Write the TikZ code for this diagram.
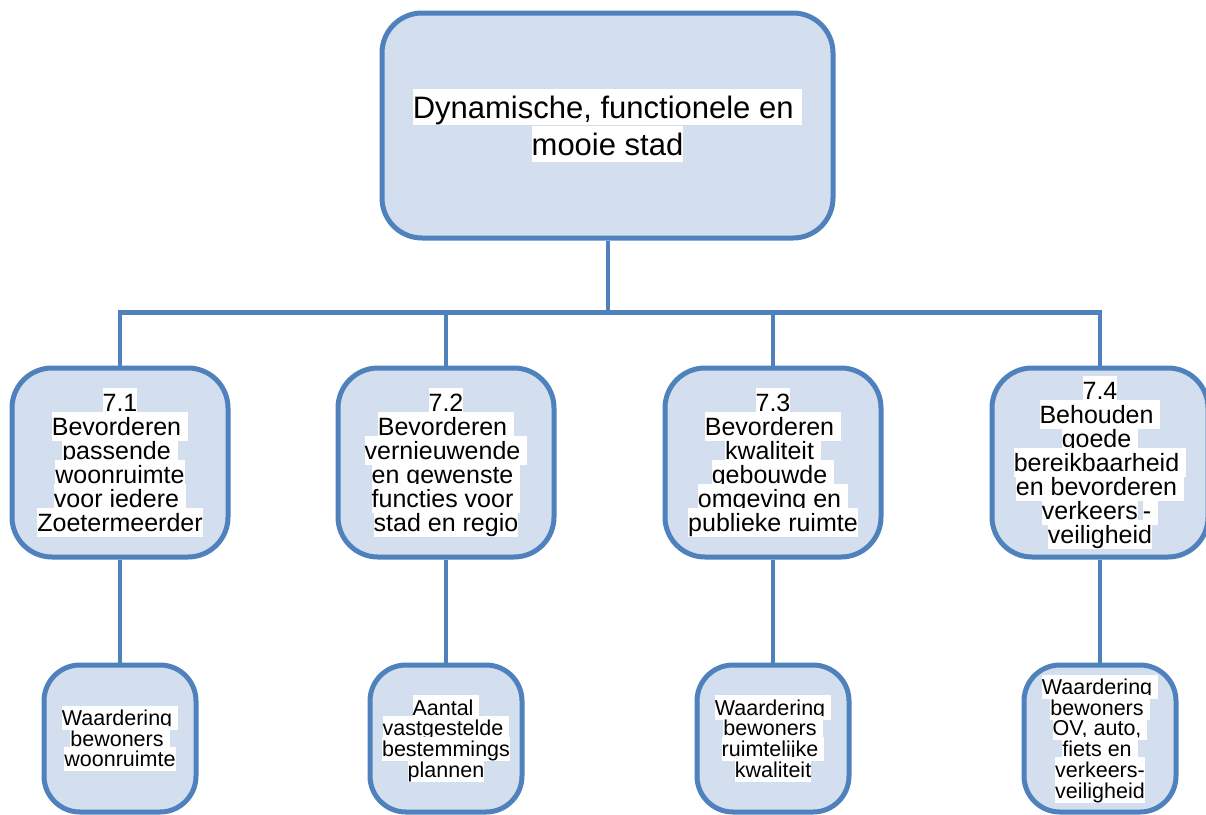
\documentclass[tikz,border=0pt]{standalone}
\usepackage{fontspec}
\setmainfont{Liberation Sans}
\definecolor{boxline}{RGB}{79,129,189}
\definecolor{boxfill}{RGB}{211,223,238}
\setlength{\fboxsep}{0pt}
\setlength{\lineskiplimit}{-100pt}
\newcommand{\hl}[1]{\colorbox{white}{\rule[-0.21em]{0pt}{1.14em}#1}}
\tikzset{
  goal/.style = {rectangle, rounded corners=#1, draw=boxline, fill=boxfill,
                 line width=5pt, align=center, inner sep=0pt},
  goal/.default = 40pt,
  conn/.style = {draw=boxline, line width=4pt}
}

\begin{document}
\begin{tikzpicture}[x=1pt, y=-1pt]
	\def \colA{120}
	\def \colB{446}
	\def \colC{773}
	\def \colD{1100}
	\def \rowtwo{462.5}
	\def \rowthree{738.5}
	
	\useasboundingbox (0,0) rectangle (1206,814);
	
	% Top
	\node[goal, minimum width=451pt, minimum height=225pt, font=\fontsize{31}{37}\selectfont] (top) at (607.5,125.5)
		{\hl{Dynamische}\hl{, functionele en }\\\hl{mooie stad}};
	
	% Subgoals
	\node[goal, minimum width=216pt, minimum height=189pt, font=\fontsize{25}{24}\selectfont] (d1) at (\colA,\rowtwo)
		{\hl{7.1}\\\hl{Bevorderen }\\\hl{passende }\\\hl{woonruimte}\\\hl{voor iedere }\\\hl{Zoetermeerder}};
	\node[goal, minimum width=216pt, minimum height=189pt, font=\fontsize{25}{24}\selectfont] (d2) at (\colB,\rowtwo)
		{\hl{7.2}\\\hl{Bevorderen }\\\hl{vernieuwende }\\\hl{en gewenste }\\\hl{functies voor }\\\hl{stad en regio}};
	\node[goal, minimum width=216pt, minimum height=189pt, font=\fontsize{25}{24}\selectfont] (d3) at (\colC,\rowtwo)
		{\hl{7.3}\\\hl{Bevorderen }\\\hl{kwaliteit }\\\hl{gebouwde }\\\hl{omgeving en }\\\hl{publieke ruimte}};
	\node[goal, minimum width=216pt, minimum height=189pt, font=\fontsize{25}{24}\selectfont] (d4) at (\colD,\rowtwo)
		{\hl{7.4}\\\hl{Behouden }\\\hl{goede }\\\hl{bereikbaarheid }\\\hl{en bevorderen }\\\hl{verkeers}\hspace{5pt}\hl{-\ }\\\hl{veiligheid}};
	
	% Indicators
	\node[goal=36pt, minimum width=152pt, minimum height=147pt, font=\fontsize{21.5}{20.7}\selectfont] (m1) at (\colA,\rowthree)
		{\hl{Waardering }\\\hl{bewoners }\\\hl{woonruimte}};
	\node[goal=36pt, minimum width=152pt, minimum height=147pt, font=\fontsize{21.5}{20.7}\selectfont] (m2) at (\colB,\rowthree)
		{\hl{Aantal }\\\hl{vastgestelde }\\\hl{bestemmings}\\\hl{plannen}};
	\node[goal=36pt, minimum width=152pt, minimum height=147pt, font=\fontsize{21.5}{20.7}\selectfont] (m3) at (\colC,\rowthree)
		{\hl{Waardering }\\\hl{bewoners }\\\hl{ruimtelijke }\\\hl{kwaliteit}};
	\node[goal=36pt, minimum width=152pt, minimum height=147pt, font=\fontsize{21.5}{20.7}\selectfont] (m4) at (\colD,\rowthree)
		{\hl{Waardering }\\\hl{bewoners }\\\hl{OV, auto, }\\\hl{fiets en }\\\hl{verkeers-}\\\hl{veiligheid}};
	
	% Lines
	\coordinate (bus) at (0,312);
	\draw[conn] (top.south) -- (top.south |- bus);
	\draw[conn, line width=5pt] ([xshift=-2pt]d1.north |- bus) -- ([xshift=2pt]d4.north |- bus);
	\foreach \i in {1,...,4} {
		\draw[conn] (d\i.north |- bus) -- (d\i.north);
		\draw[conn] (d\i.south) -- (m\i.north);
	}
	
\end{tikzpicture}
\end{document}
